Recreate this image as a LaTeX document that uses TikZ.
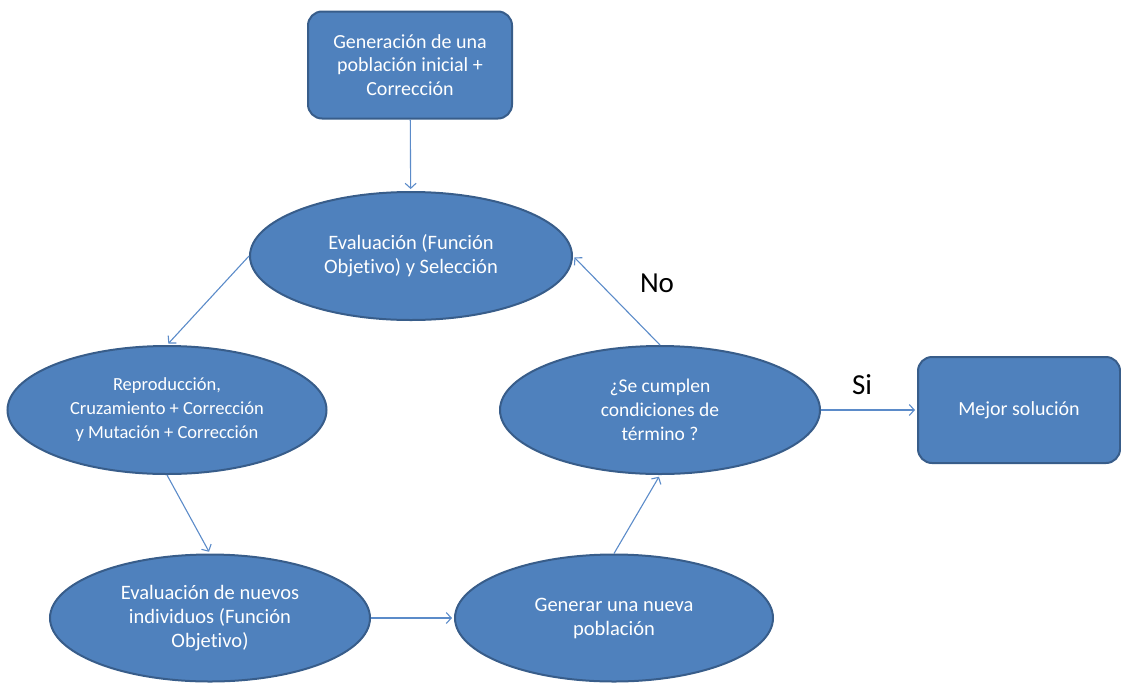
\documentclass[tikz,border=0pt]{standalone}
\usepackage{fontspec}
\setmainfont[Ligatures={NoCommon}]{Carlito}
\usetikzlibrary{shapes.geometric,arrows.meta}
\definecolor{fillblue}{HTML}{4F81BD}
\definecolor{edgeblue}{HTML}{385D8A}
\definecolor{arrowblue}{HTML}{5B8BC9}
\tikzset{
  blockbox/.style={draw=edgeblue, line width=2pt, fill=fillblue, rounded corners=14pt,
    text=white, align=center, inner sep=0pt, font=\fontsize{20}{23.5}\selectfont},
  blockell/.style={ellipse, draw=edgeblue, line width=2pt, fill=fillblue,
    text=white, align=center, inner sep=0pt, font=\fontsize{20.5}{24}\selectfont},
  flowarrow/.style={draw=arrowblue, line width=1.1pt, -{Straight Barb[length=5pt,width=11pt]}},
  decision/.style={font=\fontsize{29}{30}\selectfont, text=black}
}
\begin{document}
\begin{tikzpicture}[x=1pt,y=-1pt]
\useasboundingbox (0,0) rectangle (1121,683);
\node[blockbox, minimum width=204pt, minimum height=107pt] (init) at (410,65)
  {Generación de una\\población inicial +\\Corrección};
\node[blockell, minimum width=322pt, minimum height=128pt] (eval) at (411,256)
  {Evaluación (Función\\Objetivo) y Selección};
\node[blockell, minimum width=319pt, minimum height=128pt, font=\fontsize{18.5}{24}\selectfont] (repro) at (167,410)
  {Reproducción,\\Cruzamiento + Corrección\\y Mutación + Corrección};
\node[blockell, minimum width=320pt, minimum height=128pt, font=\fontsize{19.5}{24}\selectfont] (cond) at (660,410)
  {¿Se cumplen\\condiciones de\\término ?};
\node[blockbox, minimum width=202pt, minimum height=106pt] (best) at (1019,410)
  {Mejor solución};
\node[blockell, minimum width=320pt, minimum height=127pt] (evnew) at (210,618)
  {Evaluación de nuevos\\individuos (Función\\Objetivo)};
\node[blockell, minimum width=318pt, minimum height=127pt] (gen) at (614,618)
  {Generar una nueva\\población};
\node[decision] (no) at (657,283) {No};
\node[decision] (si) at (862,385) {Si};
\draw[flowarrow, shorten >=2pt] (init) -- (eval);
\draw[flowarrow, shorten >=2pt] (eval.west) -- (repro.north);
\draw[flowarrow, shorten >=2pt] (repro.south) -- (evnew.north);
\draw[flowarrow, shorten >=2pt] (evnew.east) -- (gen.west);
\draw[flowarrow, shorten >=2pt] (gen.north) -- (cond.south);
\draw[flowarrow, shorten >=2pt] (cond.north) -- (eval.east);
\draw[flowarrow, shorten >=2pt] (cond.east) -- (best.west);
\end{tikzpicture}
\end{document}
